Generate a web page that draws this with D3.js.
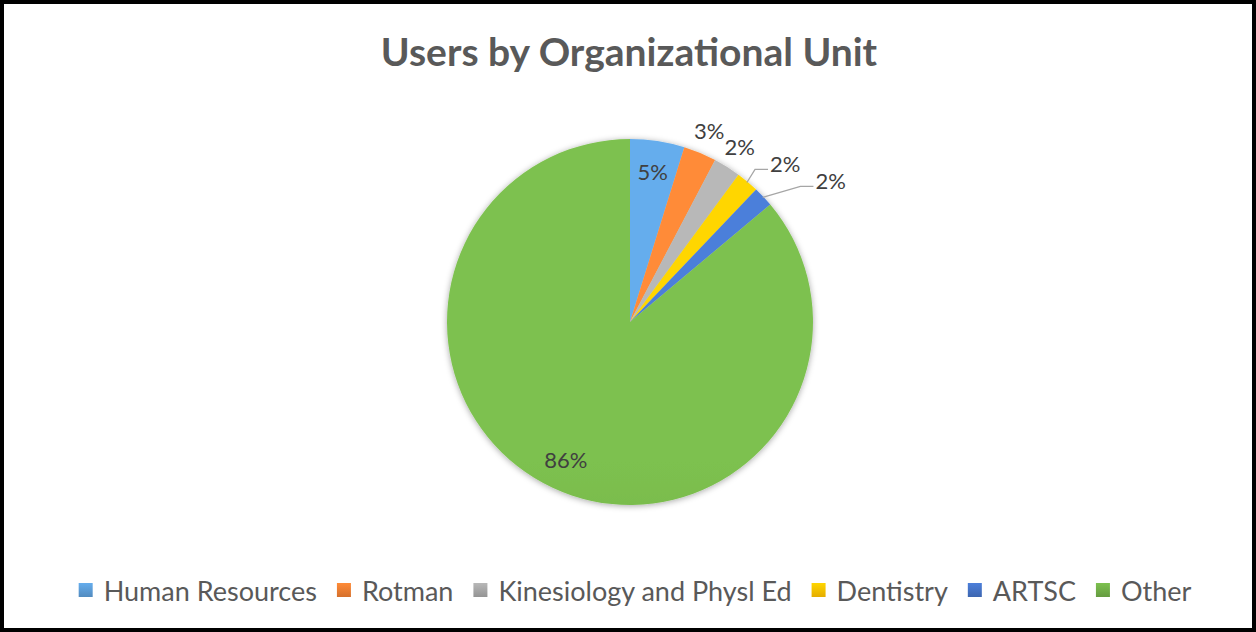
<!DOCTYPE html>
<html>
<head>
<meta charset="utf-8">
<script src="https://cdn.jsdelivr.net/npm/d3@7"></script>
<style>
  html, body { margin: 0; padding: 0; background: #fff; }
  svg { display: block; }
</style>
</head>
<body>
<div id="chart"></div>
<script>
// data (percent of users)
const units = ["Human Resources", "Rotman", "Kinesiology and Physl Ed", "Dentistry", "ARTSC", "Other"];
const shares = [4.8, 2.9, 2.4, 2.0, 1.8, 86.1];
const colors = ["#5B9BD5", "#ED7D31", "#A5A5A5", "#FFC000", "#4472C4", "#70AD47"];
const title = "Users by Organizational Unit";

const width = 1256, height = 632;
const cx = 630, cy = 322, r = 183;
const font = "Lato, 'Open Sans', sans-serif";

const svg = d3.select("#chart").append("svg")
  .attr("width", width)
  .attr("height", height);

const defs = svg.append("defs");

// soft shadow round the pie
const shadow = defs.append("filter").attr("id", "pieShadow")
  .attr("x", "-20%").attr("y", "-20%").attr("width", "140%").attr("height", "140%");
shadow.append("feDropShadow")
  .attr("dx", 0).attr("dy", 1).attr("stdDeviation", 3)
  .attr("flood-color", "#000").attr("flood-opacity", 0.35);

// vertical gradient per colour, lighter on top like the original
colors.forEach((c, i) => {
  const g = defs.append("linearGradient")
    .attr("id", "grad" + i)
    .attr("gradientUnits", "userSpaceOnUse")
    .attr("x1", 0).attr("y1", cy - r).attr("x2", 0).attr("y2", cy + r);
  g.append("stop").attr("offset", "0%").attr("stop-color", d3.color(c).brighter(0.3));
  g.append("stop").attr("offset", "100%").attr("stop-color", d3.color(c).darker(0.3));
});

// outer frame
svg.append("rect")
  .attr("x", 2).attr("y", 2)
  .attr("width", width - 4).attr("height", height - 4)
  .attr("fill", "#fff")
  .attr("stroke", "#000")
  .attr("stroke-width", 4);

// title
svg.append("text")
  .attr("x", 629).attr("y", 51)
  .attr("text-anchor", "middle")
  .attr("dominant-baseline", "central")
  .style("font-family", font)
  .style("font-weight", "bold")
  .style("font-size", "39px")
  .style("fill", "#595959")
  .text(title);

const data = units.map((u, i) => ({ unit: u, value: shares[i], idx: i }));

const pie = d3.pie().value(d => d.value).sort(null);
const arcs = pie(data);

const arc = d3.arc().innerRadius(0).outerRadius(r);
const innerLabelArc = d3.arc().innerRadius(r * 0.83).outerRadius(r * 0.83);
const outerLabelArc = d3.arc().innerRadius(r + 24).outerRadius(r + 24);
const edgeArc = d3.arc().innerRadius(r - 1).outerRadius(r - 1);

const g = svg.append("g").attr("transform", `translate(${cx},${cy})`);

g.append("g")
  .attr("filter", "url(#pieShadow)")
  .selectAll("path")
  .data(arcs)
  .join("path")
  .attr("d", arc)
  .attr("fill", d => `url(#grad${d.data.idx})`);

// labels: big slices inside, small ones outside, pushed right if they collide
const fmt = d => Math.round(d.data.value) + "%";
const labelFont = 22, labelH = 22;
const labels = arcs.map(d => {
  const inside = d.data.value >= 4;
  const [x, y] = inside ? innerLabelArc.centroid(d) : outerLabelArc.centroid(d);
  return { d, inside, x, y, text: fmt(d) };
});

// measure label widths
const measure = g.append("text")
  .style("font-family", font).style("font-size", labelFont + "px");
labels.forEach(l => { measure.text(l.text); l.w = measure.node().getComputedTextLength(); });
measure.remove();

let prev = null;
labels.forEach(l => {
  l.moved = false;
  if (l.inside) return;
  if (prev) {
    const overlapX = Math.abs(l.x - prev.x) < (l.w + prev.w) / 2;
    const overlapY = Math.abs(l.y - prev.y) < labelH;
    if (overlapX && overlapY) {
      l.x = prev.x + prev.w / 2 + 15 + l.w / 2;
      l.moved = true;
    }
  }
  prev = l;
});

// leader lines for moved labels
labels.filter(l => l.moved).forEach(l => {
  const [sx, sy] = edgeArc.centroid(l.d);
  const left = l.x - l.w / 2 - 2;
  const ly = l.y + 6;
  g.append("polyline")
    .attr("points", [[sx, sy], [left - 13, ly], [left, ly]].map(p => p.join(",")).join(" "))
    .attr("fill", "none")
    .attr("stroke", "#A6A6A6")
    .attr("stroke-width", 1.3);
});

g.selectAll("text.lbl")
  .data(labels)
  .join("text")
  .attr("class", "lbl")
  .attr("x", l => l.x)
  .attr("y", l => l.y)
  .attr("text-anchor", "middle")
  .attr("dominant-baseline", "central")
  .style("font-family", font)
  .style("font-size", labelFont + "px")
  .style("fill", "#404040")
  .text(l => l.text);

// legend
const legendY = 590, sw = 14, legFont = 27, itemGap = 20, textGap = 11;
const legend = svg.append("g");
const items = legend.selectAll("g")
  .data(data)
  .join("g");
items.append("rect")
  .attr("width", sw).attr("height", sw)
  .attr("y", legendY - sw / 2)
  .attr("fill", d => `url(#legGrad${d.idx})`);
items.append("text")
  .attr("x", sw + textGap)
  .attr("y", legendY)
  .attr("dominant-baseline", "central")
  .style("font-family", font)
  .style("font-size", legFont + "px")
  .style("fill", "#595959")
  .text(d => d.unit);

colors.forEach((c, i) => {
  const lg = defs.append("linearGradient")
    .attr("id", "legGrad" + i)
    .attr("x1", 0).attr("y1", 0).attr("x2", 0).attr("y2", 1);
  lg.append("stop").attr("offset", "0%").attr("stop-color", d3.color(c).brighter(0.3));
  lg.append("stop").attr("offset", "100%").attr("stop-color", d3.color(c).darker(0.3));
});

let xPos = 0;
items.each(function () {
  const w = sw + textGap + d3.select(this).select("text").node().getComputedTextLength();
  d3.select(this).attr("transform", `translate(${xPos},0)`);
  xPos += w + itemGap;
});
const totalW = xPos - itemGap;
legend.attr("transform", `translate(${635 - totalW / 2},0)`);
</script>
</body>
</html>
